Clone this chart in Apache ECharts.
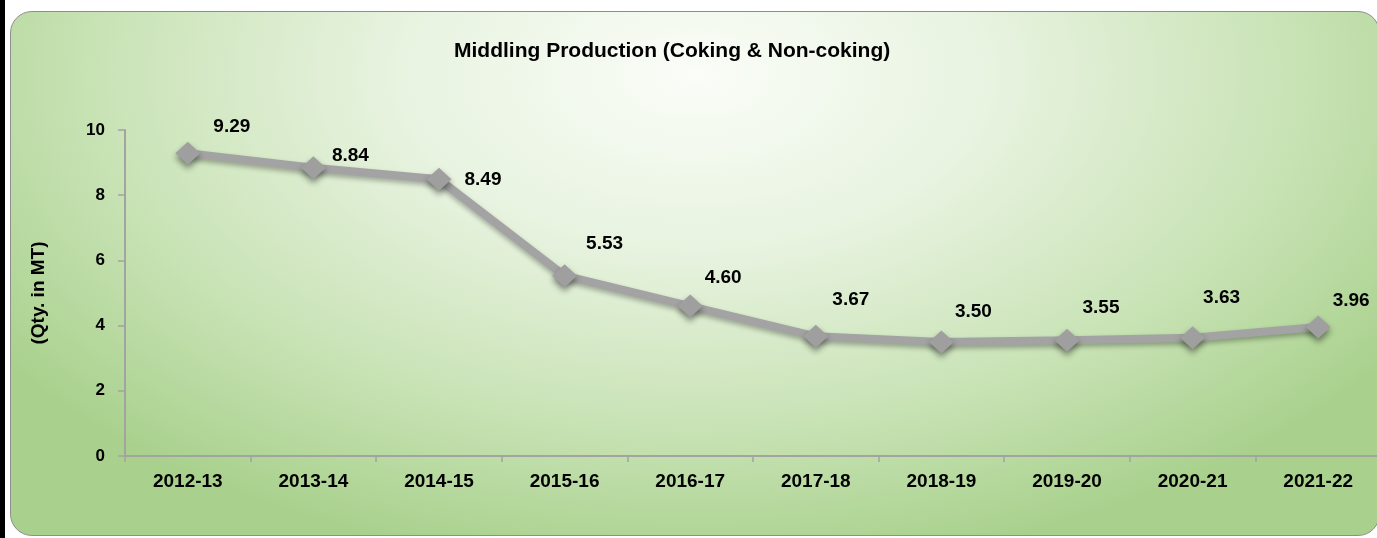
<!DOCTYPE html>
<html>
<head>
<meta charset="utf-8">
<script src="https://cdn.jsdelivr.net/npm/echarts@6/dist/echarts.min.js"></script>
<style>
  html, body { margin: 0; padding: 0; background: #ffffff; }
  .wrap { position: relative; width: 1377px; height: 538px; overflow: hidden; background: #ffffff; }
  .edge { position: absolute; left: 0; top: 0; width: 5px; height: 538px; background: #000000; z-index: 5; }
  .panel {
    position: absolute; left: 10px; top: 11px; width: 1368px; height: 523px;
    border: 1.5px solid #8e8e8e; border-radius: 22px;
    background: radial-gradient(ellipse 62% 95% at 50% 12%, #fafdf8 0%, #e8f3e0 35%, #c9e3b6 70%, #a9d18d 100%);
  }
  #chart { position: absolute; left: 0; top: 0; width: 1377px; height: 538px; }
</style>
</head>
<body>
<div class="wrap">
  <div class="panel"></div>
  <div id="chart"></div>
  <div class="edge"></div>
</div>
<script>
const years = ['2012-13', '2013-14', '2014-15', '2015-16', '2016-17', '2017-18', '2018-19', '2019-20', '2020-21', '2021-22']
const production = [9.29, 8.84, 8.49, 5.53, 4.60, 3.67, 3.50, 3.55, 3.63, 3.96]
const yTicks = [0, 2, 4, 6, 8, 10]

// label placement per point (px from the marker centre)
const labelOffsets = [[44, -26], [37, -12], [44, 1], [40, -32], [33, -28], [35, -37], [32, -30], [34, -33], [29, -40], [33, -26]]

const chart = echarts.init(document.getElementById('chart'))

const font = 'Liberation Sans, Arial, sans-serif'
const grey = '#a3a3a3'

chart.setOption({
  backgroundColor: 'transparent',
  animation: false,
  title: {
    text: 'Middling Production (Coking & Non-coking)',
    left: 449,
    top: 36,
    textStyle: { fontFamily: font, fontWeight: 'bold', fontSize: 21, color: '#000' },
  },
  grid: {
    left: 125,
    top: 130,
    width: 1256,
    height: 326,
    containLabel: false,
    outerBoundsMode: 'none',
  },
  xAxis: {
    type: 'category',
    data: years,
    boundaryGap: true,
    axisLine: { lineStyle: { color: grey, width: 2 } },
    axisTick: { show: true, length: 6, lineStyle: { color: grey, width: 1.5 } },
    axisLabel: {
      color: '#000',
      fontFamily: font,
      fontWeight: 'bold',
      fontSize: 19,
      margin: 16,
      interval: 0,
    },
  },
  yAxis: {
    type: 'value',
    min: yTicks[0],
    max: yTicks[yTicks.length - 1],
    interval: 2,
    name: '(Qty. in MT)',
    nameLocation: 'middle',
    nameRotate: 90,
    nameGap: 77,
    nameTextStyle: { fontFamily: font, fontWeight: 'bold', fontSize: 19, color: '#000' },
    axisLine: { show: true, lineStyle: { color: grey, width: 2 } },
    axisTick: { show: true, length: 7, lineStyle: { color: grey, width: 1.5 } },
    splitLine: { show: false },
    axisLabel: {
      color: '#000',
      fontFamily: font,
      fontWeight: 'bold',
      fontSize: 17,
      margin: 20,
    },
  },
  series: [
    {
      type: 'line',
      data: production,
      symbol: 'diamond',
      symbolSize: [25, 23],
      lineStyle: {
        color: grey,
        width: 8,
        shadowColor: 'rgba(0, 0, 0, 0.3)',
        shadowBlur: 5,
        shadowOffsetY: 3,
      },
      itemStyle: {
        color: '#9f9f9f',
        shadowColor: 'rgba(0, 0, 0, 0.45)',
        shadowBlur: 6,
        shadowOffsetY: 4,
      },
      label: {
        show: true,
        position: 'inside',
        color: '#000',
        fontFamily: font,
        fontWeight: 'bold',
        fontSize: 19,
        formatter: (p) => p.value.toFixed(2),
      },
      // 每个数值标签单独偏移，贴近原图位置。
      labelLayout: (params) => ({
        dx: labelOffsets[params.dataIndex][0],
        dy: labelOffsets[params.dataIndex][1],
        hideOverlap: false,
      }),
      z: 3,
    },
  ],
})

window.addEventListener('resize', () => chart.resize())
</script>
</body>
</html>
